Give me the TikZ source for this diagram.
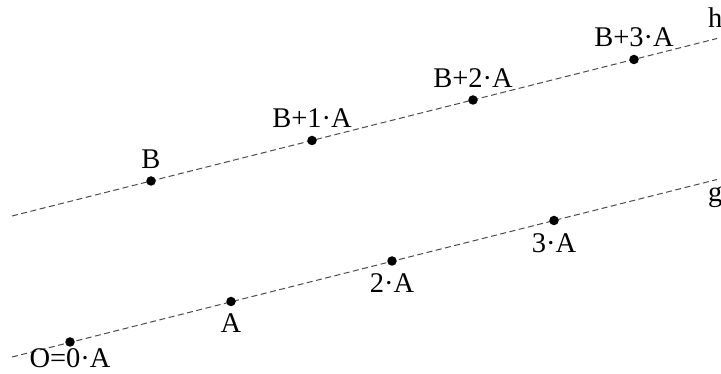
\documentclass[tikz,border=0pt]{standalone}
\usepackage{fontspec}
\setmainfont{Liberation Serif}
\usetikzlibrary{positioning}
\tikzset{
    point/.style={
        circle,
        fill=black,
        inner sep=0pt,
        minimum size=9.5pt
    },
    guide/.style={
        draw=black!70,
        line width=1pt,
        dash pattern=on 6pt off 3.5pt
    },
    tag/.style={
        inner sep=0pt,
        font=\fontsize{28.5}{32}\selectfont
    }
}

\begin{document}
\begin{tikzpicture}[
    x=1pt, y=-1pt,
    node distance=7.5pt
]
\useasboundingbox (0,0) rectangle (721,374);

% Line g
\coordinate (gl) at (12,357);
\coordinate (gr) at (717,179.5);
\draw[guide] (gl) -- (gr);

% Line h
\coordinate (hl) at (12,216);
\coordinate (hr) at (717,38.5);
\draw[guide] (hl) -- (hr);

% Multiples of A
\node[point] (o) at (70,342) {};
\node[point] (a1) at (231,301.5) {};
\node[point] (a2) at (392,261) {};
\node[point] (a3) at (554,220.5) {};

% B plus multiples of A
\node[point] (b0) at (151,181) {};
\node[point] (b1) at (312,140.5) {};
\node[point] (b2) at (473,100) {};
\node[point] (b3) at (634,59.5) {};

% Labels on g
\node[tag, below=1.5pt of o] (lo) {O=0·A};
\node[tag, below=of a1] (la1) {A};
\node[tag, below=of a2] (la2) {2·A};
\node[tag, below=of a3] (la3) {3·A};

% Labels on h
\node[tag, above=of b0] (lb0) {B};
\node[tag, above=of b1] (lb1) {B+1·A};
\node[tag, above=of b2] (lb2) {B+2·A};
\node[tag, above=of b3] (lb3) {B+3·A};

% Line names
\node[tag, anchor=base west] (lg) at ([xshift=-9pt, yshift=-22.5pt]gr) {g};
\node[tag, anchor=base west] (lh) at ([xshift=-9pt, yshift=10.5pt]hr) {h};

\end{tikzpicture}
\end{document}
